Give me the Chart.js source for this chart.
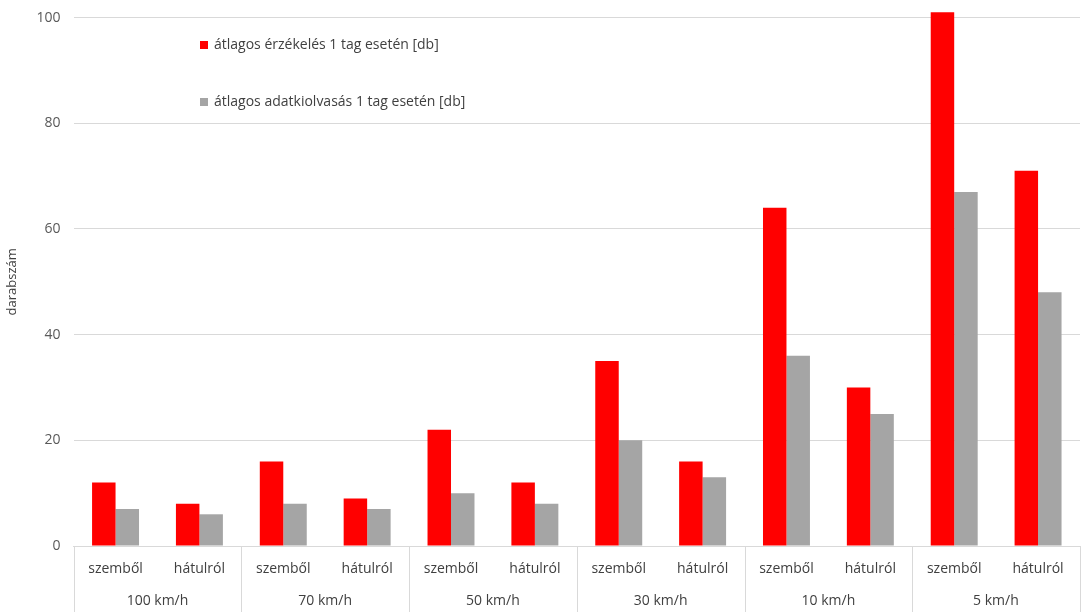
<!DOCTYPE html>
<html>
<head>
<meta charset="utf-8">
<script src="https://cdn.jsdelivr.net/npm/chart.js@4"></script>
<style>
  html, body { margin: 0; padding: 0; background: #fff; }
  #wrap { width: 1081px; height: 612px; }
</style>
</head>
<body>
<div id="wrap"><canvas id="chart"></canvas></div>
<script>
// Two-level category axis: direction within each speed group
const speeds = ['100 km/h', '70 km/h', '50 km/h', '30 km/h', '10 km/h', '5 km/h'];
const directions = ['szemből', 'hátulról'];
const labels = [];
speeds.forEach(function() { directions.forEach(function(d) { labels.push(d); }); });

const detectValues = [12, 8, 16, 9, 22, 12, 35, 16, 64, 30, 101, 71];
const readValues   = [7, 6, 8, 7, 10, 8, 20, 13, 36, 25, 67, 48];
const seriesNames = ['átlagos érzékelés 1 tag esetén [db]', 'átlagos adatkiolvasás 1 tag esetén [db]'];
const yTicks = [0, 20, 40, 60, 80, 100];

const FONT = '"Open Sans", sans-serif';
const LINE = '#d9d9d9';

// group separators + speed labels under the category axis
const groupAxis = {
    id: 'groupAxis',
    afterDraw(chart) {
        const ctx = chart.ctx;
        const x = chart.scales.x;
        const area = chart.chartArea;
        const bottom = chart.height;
        ctx.save();
        ctx.strokeStyle = LINE;
        ctx.lineWidth = 1;
        const edges = [area.left];
        for (let g = 1; g < speeds.length; g++) {
            edges.push((x.getPixelForValue(g * 2 - 1) + x.getPixelForValue(g * 2)) / 2);
        }
        edges.push(area.right - 0.5);
        edges.forEach(function(px) {
            const p = Math.round(px) + 0.5;
            ctx.beginPath();
            ctx.moveTo(p, area.bottom);
            ctx.lineTo(p, bottom);
            ctx.stroke();
        });
        ctx.fillStyle = '#404040';
        ctx.font = '14px ' + FONT;
        ctx.textAlign = 'center';
        ctx.textBaseline = 'middle';
        speeds.forEach(function(s, g) {
            ctx.fillText(s, (edges[g] + edges[g + 1]) / 2, area.bottom + 55);
        });
        ctx.restore();
    }
};

// legend drawn inside the plot area
const innerLegend = {
    id: 'innerLegend',
    afterDraw(chart) {
        const ctx = chart.ctx;
        ctx.save();
        ctx.font = '14px ' + FONT;
        ctx.textBaseline = 'middle';
        ctx.textAlign = 'left';
        chart.data.datasets.forEach(function(ds, i) {
            const y = 45 + i * 57;
            ctx.fillStyle = ds.backgroundColor;
            ctx.fillRect(200, y - 4, 8, 8);
            ctx.fillStyle = '#404040';
            ctx.fillText(ds.label, 214, y);
        });
        ctx.restore();
    }
};

new Chart(document.getElementById('chart'), {
    type: 'bar',
    data: {
        labels: labels,
        datasets: [
            { label: seriesNames[0], data: detectValues, backgroundColor: '#ff0000', clip: false },
            { label: seriesNames[1], data: readValues, backgroundColor: '#a5a5a5', clip: false }
        ]
    },
    options: {
        responsive: true,
        maintainAspectRatio: false,
        animation: false,
        categoryPercentage: 0.56,
        barPercentage: 1,
        layout: { padding: { top: 0, right: 1, bottom: 0, left: 0 } },
        plugins: {
            legend: { display: false },
            tooltip: { enabled: false }
        },
        scales: {
            x: {
                grid: { display: false },
                border: { display: true, color: LINE },
                ticks: { color: '#404040', font: { family: FONT, size: 14 }, padding: 7, maxRotation: 0 },
                afterFit(axis) { axis.height = 66; }
            },
            y: {
                min: 0,
                max: 100,
                afterBuildTicks(axis) { axis.ticks = yTicks.map(function(v) { return { value: v }; }); },
                grid: { color: LINE, drawTicks: false },
                border: { display: false },
                ticks: { color: '#595959', font: { family: FONT, size: 14, lineHeight: 0.65 }, padding: 13 },
                title: { display: true, text: 'darabszám', color: '#404040', font: { family: FONT, size: 13 }, padding: { bottom: 4 } }
            }
        }
    },
    plugins: [groupAxis, innerLegend]
});
</script>
</body>
</html>
